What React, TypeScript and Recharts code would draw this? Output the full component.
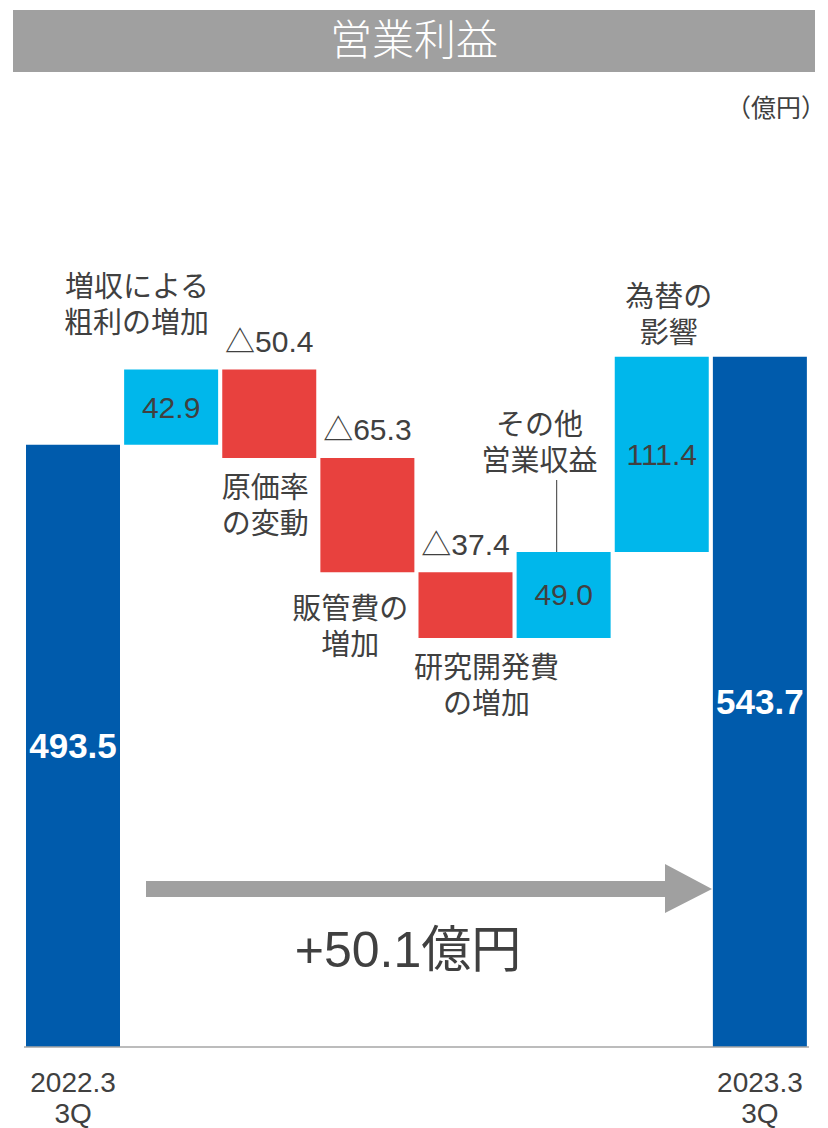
import React from "react";
import { BarChart, Bar, XAxis, YAxis, Cell, LabelList } from "recharts";

const categories = [
  "2022.3\n3Q",
  "増収による\n粗利の増加",
  "原価率\nの変動",
  "販管費の\n増加",
  "研究開発費\nの増加",
  "その他\n営業収益",
  "為替の\n影響",
  "2023.3\n3Q",
];
const kinds = ["total", "up", "down", "down", "down", "up", "up", "total"];
const amounts = [493.5, 42.9, 50.4, 65.3, 37.4, 49.0, 111.4, 543.7];
const valueLabels = ["493.5", "42.9", "△50.4", "△65.3", "△37.4", "49.0", "111.4", "543.7"];
const axisFloor = 150;
const axisCeil = 600;

const FONT = '"Liberation Sans", "Noto Sans CJK JP", sans-serif';
const TEXT = "#404040";
const COLORS: Record<string, string> = { total: "#005BAC", up: "#00B7EB", down: "#E8413E" };

let running = 0;
const data = categories.map((name, i) => {
  const amt = amounts[i];
  let range: [number, number];
  if (kinds[i] === "total") {
    range = [axisFloor, amt];
    running = amt;
  } else if (kinds[i] === "up") {
    range = [running, running + amt];
    running += amt;
  } else {
    range = [running - amt, running];
    running -= amt;
  }
  return { name, range, kind: kinds[i] };
});

// where the category notes sit relative to each bar
const notes: Record<number, { ref: "top" | "bottom"; dx: number; dy: number; anchor: "middle" | "end"; leader?: number }> = {
  1: { ref: "top", dx: 38, dy: -83, anchor: "end" },
  2: { ref: "bottom", dx: -4, dy: 30, anchor: "middle" },
  3: { ref: "bottom", dx: -17, dy: 37, anchor: "middle" },
  4: { ref: "bottom", dx: 21, dy: 30, anchor: "middle" },
  5: { ref: "top", dx: -24, dy: -127, anchor: "middle", leader: -7 },
  6: { ref: "top", dx: 7, dy: -60, anchor: "middle" },
};

function ValueLabel(props: any) {
  const { index } = props;
  const x = Number(props.x), y = Number(props.y), w = Number(props.width), h = Number(props.height);
  const cx = x + w / 2;
  const kind = kinds[index];
  if (kind === "down") {
    return (
      <text x={cx} y={y - 28} textAnchor="middle" dominantBaseline="central" fill={TEXT} fontSize={30} fontFamily={FONT}>
        {valueLabels[index]}
      </text>
    );
  }
  const isTotal = kind === "total";
  return (
    <text
      x={cx}
      y={y + h / 2}
      textAnchor="middle"
      dominantBaseline="central"
      fill={isTotal ? "#fff" : TEXT}
      fontSize={isTotal ? 35 : 30}
      fontWeight={isTotal ? 700 : 400}
      fontFamily={FONT}
    >
      {valueLabels[index]}
    </text>
  );
}

function NoteLabel(props: any) {
  const { index } = props;
  const n = notes[index];
  if (!n) return null;
  const x = Number(props.x), y = Number(props.y), w = Number(props.width), h = Number(props.height);
  const cx = x + w / 2;
  const base = n.ref === "top" ? y : y + h;
  const lines = categories[index].split("\n");
  return (
    <g>
      {lines.map((ln, k) => (
        <text
          key={k}
          x={cx + n.dx}
          y={base + n.dy + k * 36}
          textAnchor={n.anchor}
          dominantBaseline="central"
          fill={TEXT}
          fontSize={29}
          fontFamily={FONT}
        >
          {ln}
        </text>
      ))}
      {n.leader != null && (
        <line x1={cx + n.leader} x2={cx + n.leader} y1={y - 72} y2={y} stroke="#595959" strokeWidth={1.2} />
      )}
    </g>
  );
}

function XTick(props: any) {
  const { x, y, index } = props;
  if (kinds[index] !== "total") return null;
  const lines = categories[index].split("\n");
  return (
    <g>
      {lines.map((ln, k) => (
        <text key={k} x={x} y={y + 35 + k * 31} textAnchor="middle" dominantBaseline="central" fill={TEXT} fontSize={28} fontFamily={FONT}>
          {ln}
        </text>
      ))}
    </g>
  );
}

export default function App() {
  return (
    <div style={{ position: "absolute", left: 0, top: 0, width: 828, height: 1128, background: "#fff", fontFamily: FONT }}>
      <div
        style={{
          position: "absolute",
          left: 13,
          top: 10,
          width: 802,
          height: 62,
          background: "#A0A0A0",
          color: "#fff",
          fontSize: 42,
          lineHeight: "62px",
          textAlign: "center",
          fontWeight: 300,
        }}
      >
        営業利益
      </div>
      <div style={{ position: "absolute", right: 2, top: 93, fontSize: 25, color: TEXT, lineHeight: "30px" }}>（億円）</div>

      <BarChart width={828} height={1128} data={data} margin={{ top: 258, right: 19, left: 24, bottom: 0 }} barCategoryGap={2}>
        <XAxis
          dataKey="name"
          height={81}
          interval={0}
          tickLine={false}
          tickSize={0}
          tickMargin={0}
          axisLine={{ stroke: "#A6A6A6", strokeWidth: 1.5 }}
          tick={<XTick />}
        />
        <YAxis hide domain={[axisFloor, axisCeil]} allowDataOverflow />
        <Bar dataKey="range" isAnimationActive={false}>
          {data.map((d, i) => (
            <Cell key={i} fill={COLORS[d.kind]} />
          ))}
          <LabelList dataKey="range" content={<ValueLabel />} />
          <LabelList dataKey="range" content={<NoteLabel />} />
        </Bar>
      </BarChart>

      <svg style={{ position: "absolute", left: 0, top: 0 }} width={828} height={1128} pointerEvents="none">
        <polygon points="146,881 665,881 665,864 712,889 665,913 665,897 146,897" fill="#A0A0A0" />
      </svg>
      <div style={{ position: "absolute", left: 0, width: 828, top: 920, textAlign: "center", fontSize: 50, color: TEXT, lineHeight: "60px", paddingRight: 12, boxSizing: "border-box" }}>
        +50.1億円
      </div>
    </div>
  );
}
